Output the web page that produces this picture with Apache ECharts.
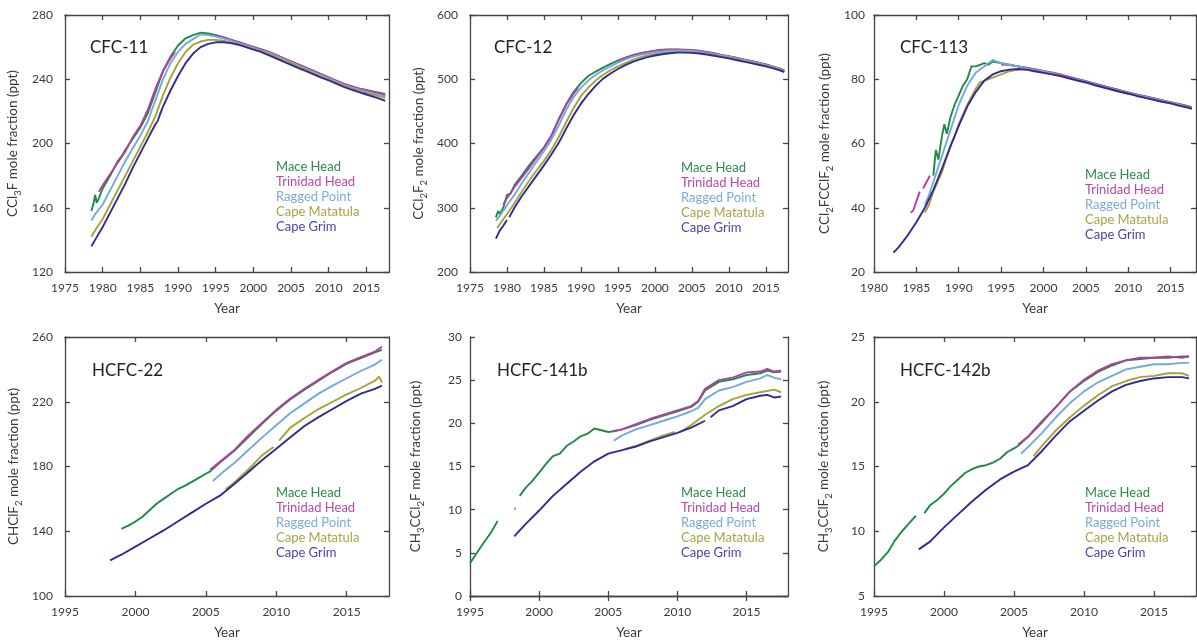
<!DOCTYPE html>
<html>
<head>
<meta charset="utf-8">
<script src="https://cdn.jsdelivr.net/npm/echarts@6/dist/echarts.min.js"></script>
<style>
  html, body { margin: 0; padding: 0; background: #ffffff; }
  #chart { width: 1197px; height: 641px; }
</style>
</head>
<body>
<div id="chart"></div>
<script>
// AGAGE stations, in drawing order
const STATIONS = ['Mace Head', 'Trinidad Head', 'Ragged Point', 'Cape Matatula', 'Cape Grim'];

// ---- CFC-11 (ppt) : [year, mole fraction] ----
const CFC11_MHD = [[1978.5,158],[1978.8,163],[1979.0,168],[1979.2,163],[1979.5,166],[1980,172],[1981,180],[1982,189],[1982.5,192],[1983,196],[1984,203],[1985,210],[1986,219],[1987,232],[1988,245],[1989,254],[1990,261],[1991,265.5],[1992,267.5],[1993,269],[1994,268.5],[1995,267.5],[1996,266],[1997,264.5],[1998,263],[1999,261.5],[2000,260],[2001,258.5],[2002,257],[2003,255],[2004,253],[2005,251],[2006,249],[2007,247],[2008,245],[2009,243],[2010,241],[2011,239],[2012,237],[2013,235.5],[2014,234],[2015,233],[2016,232],[2017,231],[2017.5,230]];
const CFC11_THD = [[1979.5,170],[1980,174],[1981,181],[1982,188],[1983,195],[1984,204],[1985,211],[1986,221],[1987,234],[1988,245],[1989,253],[1989.6,257],[1989.7,null],[1995,267.5],[1996,266.2],[1997,264.7],[1998,263.2],[1999,261.7],[2000,260.2],[2001,258.7],[2002,257.2],[2003,255.2],[2004,253.2],[2005,251.2],[2006,249.2],[2007,247.2],[2008,245.2],[2009,243.2],[2010,241.2],[2011,239.2],[2012,237.2],[2013,235.7],[2014,234.3],[2015,233.3],[2016,232.3],[2017,231.3],[2017.5,230.8]];
const CFC11_RPB = [[1978.5,152],[1979,156],[1980,162],[1981,171],[1982,180],[1983,189],[1984,197],[1985,205],[1986,214],[1987,227],[1988,240],[1989,250],[1990,257],[1991,262],[1992,265],[1993,268],[1994,267.5],[1995,266.5],[1996,265.5],[1997,264],[1998,262.5],[1999,261],[2000,259.5],[2001,258],[2002,256.5],[2003,254.5],[2004,252.5],[2005,250.5],[2006,248.5],[2007,246.5],[2008,244.5],[2009,242.5],[2010,240.5],[2011,238.5],[2012,236.5],[2013,235],[2014,233.5],[2015,232.3],[2016,231],[2017,230],[2017.5,229.3]];
const CFC11_SMO = [[1978.5,142],[1979,146],[1980,153],[1981,162],[1982,171],[1983,180],[1984,189],[1985,198],[1986,207],[1987,217],[1988,230],[1989,241],[1990,250],[1991,257],[1992,261.5],[1993,263.5],[1994,264.5],[1995,264.5],[1996,264],[1997,263],[1998,262],[1999,260.5],[2000,259],[2001,257.5],[2002,256],[2003,254],[2004,252],[2005,250],[2006,248],[2007,246],[2008,244],[2009,242],[2010,240],[2011,238],[2012,236],[2013,234.3],[2014,232.8],[2015,231.5],[2016,230.2],[2017,229],[2017.5,228.5]];
const CFC11_CGO = [[1978.5,136],[1979,140],[1980,148],[1981,157],[1982,166],[1983,175],[1984,185],[1985,194],[1986,203],[1987,212],[1987.3,214],[1987.6,218],[1988,223],[1989,233],[1990,242],[1991,250],[1992,256],[1993,260],[1994,262],[1995,263],[1996,263],[1997,262.5],[1998,261.5],[1999,260],[2000,258.5],[2001,257],[2002,255],[2003,253],[2004,251],[2005,249],[2006,247],[2007,245],[2008,243],[2009,241],[2010,239.3],[2011,237.3],[2012,235.3],[2013,233.5],[2014,232],[2015,230.5],[2016,229],[2017,227.5],[2017.5,226.5]];

// ---- CFC-12 (ppt) ----
const CFC12_MHD = [[1978.5,285],[1978.8,295],[1979,290],[1979.5,300],[1980,320],[1980.5,322],[1981,335],[1982,350],[1983,366],[1984,380],[1985,394],[1986,412],[1987,438],[1988,461],[1989,480],[1990,494],[1991,505],[1992,512],[1993,518],[1994,524],[1995,529],[1996,533],[1997,537],[1998,540],[1999,542],[2000,544],[2001,545.5],[2002,546],[2003,546],[2004,545.5],[2005,545],[2006,544],[2007,542],[2008,540],[2009,537.5],[2010,535.5],[2011,533],[2012,530.5],[2013,528],[2014,525.5],[2015,523],[2016,519.5],[2017,516],[2017.5,513.5]];
const CFC12_THD = [[1979.5,305],[1980,315],[1981,332],[1982,347],[1983,362],[1984,378],[1985,393],[1986,412],[1987,437],[1988,460],[1989,478],[1989.6,486],[1989.7,null],[1995,529],[1996,533.5],[1997,537.5],[1998,540.5],[1999,542.5],[2000,544.5],[2001,546],[2002,546.5],[2003,546.5],[2004,546],[2005,545.5],[2006,544.5],[2007,542.5],[2008,540.5],[2009,538],[2010,536],[2011,533.5],[2012,531],[2013,528.5],[2014,526],[2015,523],[2016,519.5],[2017,516],[2017.5,514]];
const CFC12_RPB = [[1978.5,280],[1979,287],[1980,304],[1981,320],[1982,338],[1983,355],[1984,372],[1985,388],[1986,406],[1987,428],[1988,452],[1989,472],[1990,487],[1991,498],[1992,507],[1993,514],[1994,520],[1995,526],[1996,531],[1997,535],[1998,538],[1999,540],[2000,542],[2001,543.5],[2002,544.5],[2003,545],[2004,544.5],[2005,544],[2006,543],[2007,541],[2008,539],[2009,537],[2010,535],[2011,532.5],[2012,530],[2013,527.5],[2014,525],[2015,522],[2016,519],[2017,515.5],[2017.5,513]];
const CFC12_SMO = [[1978.7,268],[1979,274],[1980,290],[1981,307],[1982,325],[1983,342],[1984,358],[1985,373],[1986,390],[1987,410],[1988,433],[1989,455],[1990,474],[1991,487],[1992,498],[1993,507],[1994,514],[1995,520],[1996,525],[1997,530],[1998,534],[1999,537],[2000,539],[2001,541],[2002,542],[2003,542.5],[2004,542.5],[2005,542],[2006,541],[2007,539.5],[2008,537.5],[2009,535.5],[2010,533.5],[2011,531],[2012,528.5],[2013,526],[2014,523.5],[2015,521],[2016,518],[2017,514.5],[2017.5,512]];
const CFC12_CGO = [[1978.5,252],[1979,264],[1979.5,272],[1980,281],[1980.1,null],[1980.3,285],[1981,300],[1982,318],[1983,334],[1984,350],[1985,366],[1986,383],[1987,401],[1988,423],[1989,444],[1990,462],[1991,477],[1992,490],[1993,501],[1994,509],[1995,516],[1996,522],[1997,527],[1998,531],[1999,534.5],[2000,537],[2001,539],[2002,540.5],[2003,541.5],[2004,541.5],[2005,541],[2006,540],[2007,538.5],[2008,536.5],[2009,534.5],[2010,532.5],[2011,530],[2012,527.5],[2013,525],[2014,522.5],[2015,520],[2016,517],[2017,513.5],[2017.5,511]];

// ---- CFC-113 (ppt) ----
const CFC113_MHD = [[1987,50],[1987.3,58],[1987.6,55],[1988,62],[1988.3,66],[1988.6,63],[1989,68],[1989.5,72],[1990,75],[1990.5,78],[1991,80],[1991.5,84],[1992,84],[1992.5,84.5],[1993,85],[1993.5,84.5],[1994,85.5],[1995,85],[1996,84.5],[1997,84],[1998,83.5],[1999,83],[2000,82.5],[2001,82],[2002,81.3],[2003,80.6],[2004,80],[2005,79.3],[2006,78.6],[2007,77.9],[2008,77.2],[2009,76.5],[2010,75.8],[2011,75.2],[2012,74.6],[2013,74],[2014,73.4],[2015,72.8],[2016,72.2],[2017,71.6],[2017.5,71.2]];
const CFC113_THD = [[1984.3,38.5],[1984.6,39],[1985,42],[1985.4,45],[1985.5,null],[1985.8,46],[1986.2,48],[1986.6,50],[1986.7,null],[1995,84.6],[1996,84.4],[1997,84],[1998,83.6],[1999,83.1],[2000,82.6],[2001,82.1],[2002,81.5],[2003,80.8],[2004,80.1],[2005,79.4],[2006,78.7],[2007,78],[2008,77.3],[2009,76.6],[2010,75.9],[2011,75.3],[2012,74.7],[2013,74.1],[2014,73.5],[2015,72.9],[2016,72.3],[2017,71.7],[2017.5,71.3]];
const CFC113_RPB = [[1986,41],[1986.5,44],[1987,48],[1987.5,52],[1988,56],[1988.5,60],[1989,64],[1989.5,68],[1990,72],[1990.5,75],[1991,78],[1991.5,80],[1992,82],[1992.5,83],[1993,84],[1993.5,85],[1994,86],[1994.5,85.5],[1995,85],[1996,84.5],[1997,84],[1998,83.4],[1999,82.9],[2000,82.4],[2001,81.9],[2002,81.2],[2003,80.5],[2004,79.9],[2005,79.2],[2006,78.5],[2007,77.8],[2008,77.1],[2009,76.4],[2010,75.7],[2011,75.1],[2012,74.5],[2013,73.9],[2014,73.3],[2015,72.7],[2016,72.1],[2017,71.5],[2017.5,71.1]];
const CFC113_SMO = [[1986,38.5],[1986.5,41],[1987,45],[1987.5,48],[1988,51],[1988.5,55],[1989,59],[1989.5,62],[1990,66],[1990.5,69],[1991,72],[1992,77],[1992.5,79],[1993,79.5],[1994,80.5],[1995,81.5],[1996,82.5],[1997,83],[1998,83],[1999,82.5],[2000,82.1],[2001,81.6],[2002,81.1],[2003,80.4],[2004,79.7],[2005,79.1],[2006,78.3],[2007,77.6],[2008,76.9],[2009,76.2],[2010,75.6],[2011,74.9],[2012,74.3],[2013,73.7],[2014,73.1],[2015,72.5],[2016,71.9],[2017,71.3],[2017.5,70.9]];
const CFC113_CGO = [[1982.3,26],[1983,28],[1984,31.5],[1985,35.5],[1986,40],[1987,45.5],[1988,52],[1989,59],[1990,65.5],[1991,71.5],[1992,76],[1993,79.5],[1994,81.5],[1995,82.5],[1996,83],[1997,83.2],[1998,83],[1999,82.5],[2000,82],[2001,81.5],[2002,81],[2003,80.3],[2004,79.6],[2005,79],[2006,78.2],[2007,77.5],[2008,76.8],[2009,76.1],[2010,75.5],[2011,74.8],[2012,74.2],[2013,73.6],[2014,73],[2015,72.5],[2016,71.8],[2017,71.2],[2017.5,70.8]];

// ---- HCFC-22 (ppt) ----
const HCFC22_MHD = [[1999,141.5],[1999.5,143.5],[2000,146],[2000.5,149],[2001,153],[2001.5,157],[2002,160],[2002.5,163],[2003,166],[2003.5,168],[2004,170.5],[2004.5,173],[2005,175.5],[2005.3,177],[2006,182.5],[2007,189.5],[2008,198],[2009,206.5],[2010,214.5],[2011,221.5],[2012,227.5],[2013,233],[2014,238.5],[2015,243.5],[2016,247],[2017,250.5],[2017.5,252]];
const HCFC22_THD = [[2005.3,178],[2006,183],[2007,190],[2008,199],[2009,207],[2010,215],[2011,222],[2012,228],[2013,233.5],[2014,239],[2015,244],[2016,247.5],[2017,251],[2017.5,254]];
const HCFC22_RPB = [[2005.5,171],[2006,175],[2007,182],[2008,190],[2009,198],[2010,205.5],[2011,213],[2012,219],[2013,225],[2014,230],[2015,234.5],[2016,239],[2017,243],[2017.5,246]];
const HCFC22_SMO = [[2006.4,166],[2007,170],[2008,178],[2009,187],[2009.8,192],[2009.9,null],[2010.2,196],[2011,204],[2012,210],[2013,215.5],[2014,220],[2015,224.5],[2016,228.5],[2017,233],[2017.3,235.5],[2017.5,232]];
const HCFC22_CGO = [[1998.2,122],[1999,125.5],[2000,130.5],[2001,135.5],[2002,140.5],[2003,146],[2004,151.5],[2005,157],[2006,162],[2007,169],[2008,176.5],[2009,184],[2010,191],[2011,198],[2012,205],[2013,210.5],[2014,215.5],[2015,220.5],[2016,225],[2017,228],[2017.5,230]];

// ---- HCFC-141b (ppt) ----
const HCFC141B_MHD = [[1995,3.8],[1995.5,5],[1996,6.2],[1996.5,7.3],[1997,8.7],[1997.05,null],[1998.2,10.1],[1998.3,10.1],[1998.35,null],[1998.6,11.6],[1999,12.5],[1999.5,13.3],[2000,14.3],[2000.5,15.3],[2001,16.2],[2001.5,16.5],[2002,17.4],[2002.5,17.9],[2003,18.5],[2003.5,18.8],[2004,19.4],[2004.5,19.2],[2005,19.0],[2005.5,19.1],[2006,19.3],[2007,19.8],[2008,20.4],[2009,20.9],[2010,21.4],[2011,21.9],[2011.5,22.5],[2012,23.8],[2013,24.8],[2014,25.1],[2015,25.6],[2016,25.8],[2016.5,26.1],[2017,25.9],[2017.5,26.0]];
const HCFC141B_THD = [[2005.3,19.1],[2006,19.3],[2007,19.9],[2008,20.5],[2009,21.0],[2010,21.5],[2011,22.0],[2011.5,22.6],[2012,24.0],[2013,25.0],[2014,25.3],[2015,25.9],[2016,26.0],[2016.5,26.3],[2017,26.0],[2017.5,26.1]];
const HCFC141B_RPB = [[2005.4,18.0],[2006,18.6],[2007,19.3],[2008,19.8],[2009,20.3],[2010,20.8],[2011,21.4],[2011.5,21.8],[2012,22.8],[2013,23.8],[2014,24.2],[2015,24.8],[2016,25.2],[2016.5,25.6],[2017,25.3],[2017.5,25.1]];
const HCFC141B_SMO = [[2006.2,17.0],[2007,17.4],[2008,18.0],[2009,18.6],[2009.8,19.0],[2009.9,null],[2010.2,19.0],[2011,19.8],[2012,21.0],[2013,22.0],[2014,22.8],[2015,23.3],[2016,23.6],[2017,23.9],[2017.5,23.6]];
const HCFC141B_CGO = [[1998.2,6.9],[1999,8.3],[2000,9.9],[2001,11.6],[2002,13.0],[2003,14.4],[2004,15.6],[2005,16.5],[2006,16.9],[2007,17.3],[2008,17.9],[2009,18.4],[2010,18.9],[2011,19.5],[2012,20.3],[2012.2,null],[2012.4,20.7],[2013,21.5],[2014,22.0],[2015,22.8],[2016,23.2],[2016.5,23.3],[2017,23.0],[2017.5,23.1]];

// ---- HCFC-142b (ppt) ----
const HCFC142B_MHD = [[1995,7.3],[1995.5,7.8],[1996,8.4],[1996.5,9.3],[1997,10.0],[1997.5,10.6],[1998,11.2],[1998.05,null],[1998.6,11.4],[1999,12.0],[1999.5,12.4],[2000,12.9],[2000.5,13.5],[2001,14.0],[2001.5,14.5],[2002,14.8],[2002.5,15.0],[2003,15.1],[2003.5,15.3],[2004,15.6],[2004.5,16.1],[2005,16.4],[2005.3,16.6],[2006,17.3],[2007,18.4],[2008,19.6],[2009,20.8],[2010,21.6],[2011,22.3],[2012,22.8],[2013,23.2],[2014,23.3],[2015,23.4],[2016,23.4],[2017,23.5],[2017.5,23.5]];
const HCFC142B_THD = [[2005.3,16.7],[2006,17.3],[2007,18.5],[2008,19.6],[2009,20.8],[2010,21.7],[2011,22.4],[2012,22.9],[2013,23.2],[2014,23.4],[2015,23.4],[2016,23.5],[2017,23.4],[2017.5,23.5]];
const HCFC142B_RPB = [[2005.5,16.0],[2006,16.5],[2007,17.6],[2008,18.8],[2009,19.9],[2010,20.8],[2011,21.5],[2012,22.0],[2013,22.5],[2014,22.7],[2015,22.9],[2016,22.9],[2017,23.0],[2017.5,23.0]];
const HCFC142B_SMO = [[2006.4,15.8],[2007,16.6],[2008,17.8],[2009,18.8],[2010,19.7],[2011,20.5],[2012,21.2],[2013,21.6],[2014,21.9],[2015,22.0],[2016,22.2],[2017,22.2],[2017.5,22.0]];
const HCFC142B_CGO = [[1998.2,8.6],[1999,9.2],[2000,10.3],[2001,11.3],[2002,12.3],[2003,13.2],[2004,14.0],[2005,14.6],[2006,15.1],[2007,16.2],[2008,17.4],[2009,18.5],[2010,19.3],[2011,20.1],[2012,20.8],[2013,21.3],[2014,21.6],[2015,21.8],[2016,21.9],[2017,21.9],[2017.5,21.8]];

// ---- axis ticks ----
const X_TICKS_TOP = [1975, 1980, 1985, 1990, 1995, 2000, 2005, 2010, 2015];
const X_TICKS_CFC113 = [1980, 1985, 1990, 1995, 2000, 2005, 2010, 2015];
const X_TICKS_BOTTOM = [1995, 2000, 2005, 2010, 2015];
const Y_TICKS_CFC11 = [120, 160, 200, 240, 280];
const Y_TICKS_CFC12 = [200, 300, 400, 500, 600];
const Y_TICKS_CFC113 = [20, 40, 60, 80, 100];
const Y_TICKS_HCFC22 = [100, 140, 180, 220, 260];
const Y_TICKS_HCFC141B = [0, 5, 10, 15, 20, 25, 30];
const Y_TICKS_HCFC142B = [5, 10, 15, 20, 25];

// ---- panels ----
const PANELS = [
  { title: 'CFC-11', yName: 'CCl{s|3}F mole fraction (ppt)', xMin: 1975, xTicks: X_TICKS_TOP, yTicks: Y_TICKS_CFC11,
    series: [CFC11_MHD, CFC11_THD, CFC11_RPB, CFC11_SMO, CFC11_CGO] },
  { title: 'CFC-12', yName: 'CCl{s|2}F{s|2} mole fraction (ppt)', xMin: 1975, xTicks: X_TICKS_TOP, yTicks: Y_TICKS_CFC12,
    series: [CFC12_MHD, CFC12_THD, CFC12_RPB, CFC12_SMO, CFC12_CGO] },
  { title: 'CFC-113', yName: 'CCl{s|2}FCClF{s|2} mole fraction (ppt)', xMin: 1980, xTicks: X_TICKS_CFC113, yTicks: Y_TICKS_CFC113,
    series: [CFC113_MHD, CFC113_THD, CFC113_RPB, CFC113_SMO, CFC113_CGO] },
  { title: 'HCFC-22', yName: 'CHClF{s|2} mole fraction (ppt)', xMin: 1995, xTicks: X_TICKS_BOTTOM, yTicks: Y_TICKS_HCFC22,
    series: [HCFC22_MHD, HCFC22_THD, HCFC22_RPB, HCFC22_SMO, HCFC22_CGO] },
  { title: 'HCFC-141b', yName: 'CH{s|3}CCl{s|2}F mole fraction (ppt)', xMin: 1995, xTicks: X_TICKS_BOTTOM, yTicks: Y_TICKS_HCFC141B,
    series: [HCFC141B_MHD, HCFC141B_THD, HCFC141B_RPB, HCFC141B_SMO, HCFC141B_CGO] },
  { title: 'HCFC-142b', yName: 'CH{s|3}CClF{s|2} mole fraction (ppt)', xMin: 1995, xTicks: X_TICKS_BOTTOM, yTicks: Y_TICKS_HCFC142B,
    series: [HCFC142B_MHD, HCFC142B_THD, HCFC142B_RPB, HCFC142B_SMO, HCFC142B_CGO] }
];
const X_MAX = 2018;

// ---- layout and styling ----
const LINE_COLORS = ['#1f8a43', '#b23ea0', '#72a9df', '#a6a234', '#30299a'];
const TEXT_COLORS = ['#2b8c4c', '#b84aa6', '#7aaade', '#a9a445', '#4a3fae'];
const FONT = 'Lato, "Open Sans", sans-serif';
const INK = '#3a3a3a';
const FRAME = '#444444';

const GRIDS = [
  { left: 65,  top: 15,  width: 324, height: 257 },
  { left: 470, top: 15,  width: 318, height: 257 },
  { left: 874, top: 15,  width: 322, height: 257 },
  { left: 65,  top: 337, width: 324, height: 259 },
  { left: 470, top: 337, width: 318, height: 259 },
  { left: 874, top: 337, width: 322, height: 259 }
];
const Y_LABEL_MARGIN = [12, 12, 9, 12, 8, 9];
const Y_NAME_GAP = [42, 41, 39, 41, 44, 40];
const TITLE_POS = [[90, 39], [494, 39], [900, 39], [92, 362], [497, 362], [900, 362]];
const LEGEND_POS = [[276, 158], [681, 159], [1085, 166], [276, 484], [681, 484], [1085, 484]];

const lineStyleAxis = { color: FRAME, width: 1.3 };
const yearLabel = v => String(v);

const grid = [], xAxis = [], yAxis = [], series = [], title = [], legend = [];

PANELS.forEach((p, i) => {
  grid.push(Object.assign({ containLabel: false }, GRIDS[i]));

  // bottom axis with labels, mirrored top axis with ticks only
  xAxis.push({
    type: 'value', gridIndex: i, min: p.xMin, max: X_MAX, position: 'bottom',
    name: 'Year', nameLocation: 'middle', nameGap: 30,
    nameTextStyle: { fontFamily: FONT, fontSize: 13.5, color: INK },
    axisLine: { show: true, lineStyle: lineStyleAxis },
    axisTick: { show: true, inside: true, length: 5, customValues: p.xTicks, lineStyle: lineStyleAxis },
    axisLabel: { show: true, customValues: p.xTicks, formatter: yearLabel, margin: 10, fontFamily: FONT, fontSize: 12, color: INK },
    splitLine: { show: false }
  });
  xAxis.push({
    type: 'value', gridIndex: i, min: p.xMin, max: X_MAX, position: 'top',
    axisLine: { show: true, lineStyle: lineStyleAxis },
    axisTick: { show: true, inside: true, length: 5, customValues: p.xTicks, lineStyle: lineStyleAxis },
    axisLabel: { show: false },
    splitLine: { show: false }
  });

  const yMin = p.yTicks[0], yMax = p.yTicks[p.yTicks.length - 1];
  yAxis.push({
    type: 'value', gridIndex: i, min: yMin, max: yMax, position: 'left',
    name: p.yName, nameLocation: 'middle', nameGap: Y_NAME_GAP[i], nameRotate: 90,
    nameTextStyle: {
      fontFamily: FONT, fontSize: 13.5, color: INK, lineHeight: 20,
      rich: { s: { fontFamily: FONT, fontSize: 9.5, color: INK, verticalAlign: 'bottom' } }
    },
    axisLine: { show: true, lineStyle: lineStyleAxis },
    axisTick: { show: true, inside: true, length: 5, customValues: p.yTicks, lineStyle: lineStyleAxis },
    axisLabel: { show: true, customValues: p.yTicks, margin: Y_LABEL_MARGIN[i], fontFamily: FONT, fontSize: 12, color: INK },
    splitLine: { show: false }
  });
  yAxis.push({
    type: 'value', gridIndex: i, min: yMin, max: yMax, position: 'right',
    axisLine: { show: true, lineStyle: lineStyleAxis },
    axisTick: { show: true, inside: true, length: 5, customValues: p.yTicks, lineStyle: lineStyleAxis },
    axisLabel: { show: false },
    splitLine: { show: false }
  });

  p.series.forEach((d, s) => {
    series.push({
      type: 'line', name: STATIONS[s], data: d,
      xAxisIndex: i * 2, yAxisIndex: i * 2,
      showSymbol: false, symbol: 'none', connectNulls: false,
      lineStyle: { width: 1.9, color: LINE_COLORS[s] },
      itemStyle: { color: LINE_COLORS[s] },
      z: 2 + s, animation: false
    });
  });

  title.push({
    text: p.title, left: TITLE_POS[i][0], top: TITLE_POS[i][1], padding: 0,
    textStyle: { fontFamily: FONT, fontSize: 17, fontWeight: 'normal', color: '#222222', lineHeight: 18 }
  });

  legend.push({
    left: LEGEND_POS[i][0] - 5, top: LEGEND_POS[i][1], orient: 'vertical', padding: 0,
    itemGap: 0, itemWidth: 0, itemHeight: 17.3, icon: 'none', selectedMode: false,
    textStyle: { fontFamily: FONT, fontSize: 13 },
    data: STATIONS.map((n, k) => ({ name: n, icon: 'none', textStyle: { color: TEXT_COLORS[k] } }))
  });
});

const chart = echarts.init(document.getElementById('chart'), null, { renderer: 'canvas' });
chart.setOption({
  backgroundColor: '#ffffff',
  animation: false,
  title, legend, grid, xAxis, yAxis, series
});
</script>
</body>
</html>
